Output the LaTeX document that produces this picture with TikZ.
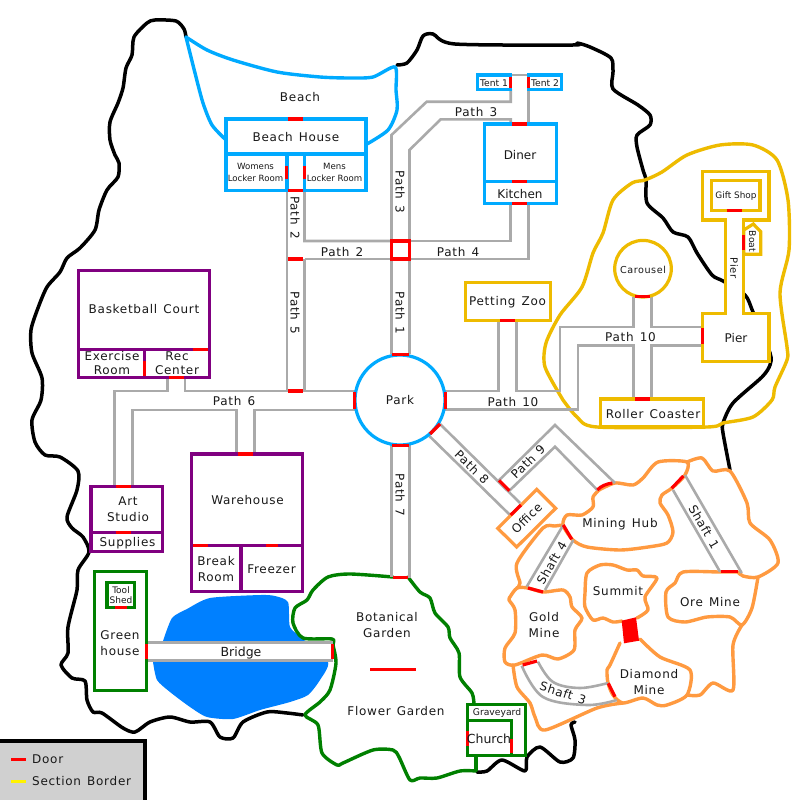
\documentclass[tikz,border=0pt]{standalone}
\usepackage{fontspec}
\setmainfont{DejaVu Sans}
\newfontfamily\spacedfont[LetterSpace=6,WordSpace=1.35]{DejaVu Sans}
\definecolor{cblue}{HTML}{00AAFF}
\definecolor{cpurple}{HTML}{800080}
\definecolor{cgreen}{HTML}{008000}
\definecolor{cyell}{HTML}{EEBB00}
\definecolor{corange}{HTML}{FF9A40}
\definecolor{cgray}{HTML}{AAAAAA}
\definecolor{clake}{HTML}{0080FF}
\definecolor{clegend}{HTML}{D0D0D0}
\tikzset{
  outline/.style={draw=black,line width=3.5pt,smooth,tension=0.45,line cap=round,line join=round},
  region/.style={line width=3.4pt,smooth,tension=0.45,line cap=round,line join=round},
  room/.style={line width=3.2pt,fill=white,line join=miter},
  divider/.style={line width=3.2pt},
  pathline/.style={draw=cgray,line width=2.6pt,line join=miter},
  door/.style={draw=red,line width=3.2pt},
  lab/.style={font=\spacedfont\fontsize{12}{16}\selectfont,align=center,inner sep=0pt,text=black!90},
  plainlab/.style={font=\fontsize{12}{16}\selectfont,align=center,inner sep=0pt,text=black!90},
  smalllab/.style={font=\fontsize{9.2}{12}\selectfont,align=center,inner sep=0pt,text=black!90},
  midlab/.style={font=\spacedfont\fontsize{10}{13}\selectfont,align=center,inner sep=0pt,text=black!90},
}
\begin{document}
\begin{tikzpicture}[x=1pt,y=-1pt]
\useasboundingbox (0,0) rectangle (800,800);
\fill[white] (0,0) rectangle (800,800);
% lake
\fill[clake] plot[smooth,tension=0.4] coordinates {(163,641)(172,618)(187,609)(210,598)(260,595)(275,596)(288,602)(290,627)(303,639)(328,662)(320,680)(308,695)(290,702)(260,710)(233,719)(207,717)(190,707)(170,692)(157,680)(153,662)} -- cycle;
% island outline
\draw[outline] plot coordinates {(186,37)(184,29)(176,21)(155,20)(147,23)(134,37)(132,55)(126,68)(123,88)(118,103)(110,122)(110,140)(115,155)(119,163)(118,177)(107,190)(99,210)(95,230)(80,248)(67,258)(60,272)(47,287)(38,308)(31,330)(32,353)(42,378)(41,400)(32,420)(35,442)(45,455)(60,457)(78,471)(77,490)(67,517)(72,528)(83,537)(89,552)(78,570)(77,590)(68,627)(68,653)(61,665)(72,678)(85,681)(87,700)(93,712)(102,713)(123,728)(135,732)(150,722)(170,717)(190,722)(210,722)(220,737)(233,738)(243,722)(267,712)(287,713)(303,715)};
\draw[outline] plot coordinates {(477,772)(487,771)(502,760)(525,771)(527,757)(540,747)(560,762)(573,758)(575,740)(571,725)(575,722)};
\draw[outline] plot coordinates {(730,470)(723,433)(723,423)(733,403)(762,377)(770,365)(770,353)(753,312)(745,295)(723,281)(712,275)(697,253)(688,237)(673,232)(663,218)(647,203)(646,180)(643,170)(637,147)(637,135)(650,125)(650,115)(638,105)(613,89)(613,72)(611,58)(590,47)(577,43)(573,45)(455,44)(433,34)(423,36)(417,50)(407,63)(397,65)};
% beach
\draw[region,draw=cblue] plot coordinates {(186,37)(207,50)(233,60)(277,72)(320,77)(350,78)(373,77)(395,67)(396,90)(397,110)(388,130)(367,144)};
\draw[region,draw=cblue] plot coordinates {(186,37)(195,73)(203,103)(212,125)(226,140)};
% amusement section
\draw[region,draw=cyell] plot coordinates {(563,400)(545,367)(546,343)(560,315)(582,287)(593,253)(603,233)(613,200)(632,183)(645,180)(662,172)(687,155)(720,145)(753,145)(777,160)(788,200)(789,250)(780,293)(787,347)(787,360)(775,387)(772,400)(753,417)(723,423)(707,427)(597,427)(577,417)(563,400)};
% garden
\draw[region,draw=cgreen] plot coordinates {(393,577)(350,574)(328,577)(313,590)(307,600)(295,608)(293,623)(303,638)(332,639)(333,645)(336,663)(330,690)(320,702)(305,715)(318,725)(322,753)(337,765)(343,763)(373,750)(393,750)(399,757)(410,780)(420,778)(437,778)(460,771)(476,771)};
\draw[region,draw=cgreen] plot coordinates {(408,577)(420,592)(430,598)(435,613)(448,627)(450,638)(459,653)(460,677)(472,693)(474,704)};
\draw[cgreen,line width=3.2pt] (476,771) -- (476,755);
% mines
\draw[region,draw=corange] plot coordinates {(599,490)(615,483)(633,485)(643,478)(658,462)(687,462)(685,475)(672,488)(662,495)(660,503)(668,515)(673,532)(667,543)(648,547)(620,550)(587,547)(573,540)(563,525)(567,515)(582,515)(593,507)(593,497)(599,490)};
\draw[region,draw=corange] plot coordinates {(687,462)(702,458)(713,471)(730,471)(747,503)(750,523)(770,540)(778,563)(758,577)(743,576)(738,572)};
\draw[region,draw=corange] plot coordinates {(738,572)(720,572)(683,572)(675,583)(666,592)(668,617)(685,622)(707,617)(730,617)(742,625)(752,608)(758,577)};
\draw[region,draw=corange] plot coordinates {(742,625)(733,645)(733,690)(713,683)(700,695)(687,695)};
\draw[region,draw=corange] plot coordinates {(640,639)(660,657)(690,670)(687,695)(667,705)(657,705)(643,698)(623,703)(613,695)(608,683)(607,670)(610,665)(620,643)};
\draw[region,draw=corange] plot coordinates {(622,621)(613,622)(603,618)(593,620)(585,607)(585,593)(587,573)(600,565)(613,565)(627,570)(637,570)(643,576)(657,578)(645,597)(648,610)(637,618)};
\draw[region,draw=corange] plot coordinates {(510,597)(517,588)(528,588)(543,592)(563,590)(570,597)(572,607)(582,618)(575,630)(574,650)(558,659)(542,655)(515,665)(505,662)(505,648)(515,633)(515,610)(509,600)(510,597)};
\draw[region,draw=corange] plot coordinates {(563,525)(555,526)(543,528)(517,563)(520,583)(517,588)};
\draw[region,draw=corange] plot coordinates {(513,665)(517,687)(530,703)(535,717)(545,730)(597,708)(623,703)};
\fill[red] (621.7,620.7) -- (636,617.3) -- (639,640.7) -- (624,643.3) -- cycle;
% paths
\draw[pathline] (287,190) -- (287,391) -- (185,391) -- (185,378);
\draw[pathline] (304.5,190) -- (304.5,241) -- (391.5,241) -- (391.5,135) -- (426.7,101.7) -- (510.7,101.7) -- (510.7,89);
\draw[pathline] (510.7,75) -- (528.3,75) -- (528.3,124);
\draw[pathline] (304.5,259) -- (391.5,259) -- (391.5,354);
\draw[pathline] (304.5,259) -- (304.5,391) -- (355,391);
\draw[pathline] (409.5,354) -- (409.5,241);
\draw[pathline] (409.5,241) -- (409.5,150) -- (440.7,119.3) -- (510.7,119.3) -- (510.7,124);
\draw[pathline] (510.7,203) -- (510.7,241) -- (409.5,241);
\draw[pathline] (528.3,203) -- (528.3,259) -- (409.5,259);
\draw[pathline] (167.5,378) -- (167.5,391) -- (114.5,391) -- (114.5,486);
\draw[pathline] (132.5,486) -- (132.5,410) -- (236.5,410) -- (236.5,454);
\draw[pathline] (254.5,454) -- (254.5,410) -- (355,410);
\draw[pathline] (391.5,445) -- (391.5,577);
\draw[pathline] (409.5,445) -- (409.5,578);
\draw[pathline] (444,391) -- (498.7,391) -- (498.7,321);
\draw[pathline] (516.7,321) -- (516.7,391) -- (560,391) -- (560,327) -- (633.7,327) -- (633.7,297);
\draw[pathline] (651.7,297) -- (651.7,327) -- (702,327);
\draw[pathline] (702,345.7) -- (651.7,345.7) -- (651.7,399);
\draw[pathline] (633.7,399) -- (633.7,345.7) -- (578,345.7) -- (578,409.3) -- (444,409.3);
\draw[pathline] (440,424) -- (520,503);
\draw[pathline] (429.3,436) -- (510,515);
\draw[pathline] (499,480.3) -- (555,425) -- (615,483);
\draw[pathline] (509.3,490.7) -- (555,446.7) -- (597.3,490);
\draw[pathline] (526.7,586.7) -- (563.3,525);
\draw[pathline] (545,590) -- (573.3,540);
\draw[pathline] (673,490) -- (720,571.7);
\draw[pathline] (685,475) -- (741.7,573);
\draw[pathline] plot[smooth,tension=0.6] coordinates {(521.7,665.7)(543,697)(587,705)(616.7,700)};
\draw[pathline] plot[smooth,tension=0.6] coordinates {(538,661.7)(553,682)(580,688)(608,683)};
% bridge
\fill[white] (147,642.7) rectangle (333,660.3);
\draw[pathline] (147,642.7) -- (333,642.7);
\draw[pathline] (147,660.3) -- (333,660.3);
% rooms: beach
\draw[room,draw=cblue] (226,119) rectangle (366,154);
\draw[room,draw=cblue] (226,154) rectangle (287,190.5);
\draw[room,draw=cblue] (304.5,154) rectangle (366,190.5);
\draw[room,draw=cblue] (400,400) circle (45);
\draw[room,draw=cblue] (477.3,75) rectangle (510.7,89.3);
\draw[room,draw=cblue] (528.3,75) rectangle (561.7,89.3);
\draw[room,draw=cblue] (484.3,124) rectangle (556.3,203.3);
\draw[divider,cblue] (484.3,181.7) -- (556.3,181.7);
% rooms: purple
\draw[room,draw=cpurple] (78.3,270.7) rectangle (209.3,377.3);
\draw[divider,cpurple] (78.3,349.3) -- (209.3,349.3) (144.3,349.3) -- (144.3,377.3);
\draw[room,draw=cpurple] (91,486.7) rectangle (162.7,551.7);
\draw[divider,cpurple] (91,532.3) -- (162.7,532.3);
\draw[room,draw=cpurple] (191.3,454) rectangle (302.7,591.7);
\draw[divider,cpurple] (191.3,545.3) -- (302.7,545.3) (241,545.3) -- (241,591.7);
% rooms: green
\draw[room,draw=cgreen] (94.7,571.3) rectangle (146.7,690.7);
\draw[room,draw=cgreen] (107,582.3) rectangle (134.7,607.7);
\draw[room,draw=cgreen] (467.3,704.7) rectangle (525.7,755.3);
\draw[divider,cgreen] (467.3,720.7) -- (511.3,720.7) -- (511.3,755.3);
% rooms: yellow
\draw[room,draw=cyell] (465.3,282.7) rectangle (550.7,320.7);
\draw[room,draw=cyell] (643,268.7) circle (28.3);
\draw[room,draw=cyell] (600.7,399) rectangle (703.3,426.7);
\draw[room,draw=cyell] (702.3,171.3) -- (769,171.3) -- (769,220) -- (743.3,220) -- (743.3,313.3) -- (769,313.3) -- (769,361.7) -- (702.3,361.7) -- (702.3,313.3) -- (725.7,313.3) -- (725.7,220) -- (702.3,220) -- cycle;
\draw[room,draw=cyell] (711.3,180.3) rectangle (760,210.7);
\draw[room,draw=cyell] (743.8,230) -- (753.3,224) -- (760.7,231.7) -- (760.7,254.3) -- (743.8,254.3) -- cycle;
% office
\draw[room,draw=corange] (536.7,489.3) -- (555.7,508.3) -- (516.7,547) -- (497.7,528.3) -- cycle;
% doors
\draw[door] (288,119) -- (303,119);
\draw[door] (286.7,166) -- (286.7,179);
\draw[door] (304.7,166) -- (304.7,179);
\draw[door] (288,190.5) -- (303,190.5);
\draw[door] (288,259) -- (303,259);
\draw[door] (288,391) -- (303,391);
\draw[door] (391.5,241) rectangle (409.5,259);
\draw[door] (392,354.5) -- (409,354.5);
\draw[door] (392,445.5) -- (409,445.5);
\draw[door] (354.5,392) -- (354.5,409);
\draw[door] (445.5,392) -- (445.5,409);
\draw[door] (430,434) -- (440,424);
\draw[door] (193,349.3) -- (208,349.3);
\draw[door] (144.3,361) -- (144.3,376);
\draw[door] (169,377.3) -- (184,377.3);
\draw[door] (115.7,486.7) -- (131,486.7);
\draw[door] (115.7,532.3) -- (131,532.3);
\draw[door] (237.7,454) -- (252.7,454);
\draw[door] (193.3,545.3) -- (207.7,545.3);
\draw[door] (266,545.3) -- (277.7,545.3);
\draw[door] (115.3,607.3) -- (127,607.3);
\draw[door] (146.7,644) -- (146.7,658.7);
\draw[door] (332.3,644) -- (332.3,658.7);
\draw[door] (393,577.5) -- (408,577.5);
\draw[door] (370,669.3) -- (416,669.3);
\draw[door] (467.3,731) -- (467.3,745.7);
\draw[door] (511.3,739) -- (511.3,753.3);
\draw[door] (510.7,77) -- (510.7,88);
\draw[door] (528.3,77) -- (528.3,88);
\draw[door] (512,124) -- (527,124);
\draw[door] (512,181.7) -- (527,181.7);
\draw[door] (512,203.3) -- (527,203.3);
\draw[door] (500,320.7) -- (515,320.7);
\draw[door] (635,296.7) -- (650,296.7);
\draw[door] (635,399) -- (650,399);
\draw[door] (702.3,328.3) -- (702.3,344);
\draw[door] (726.7,210.7) -- (741.7,210.7);
\draw[door] (743.3,235) -- (743.3,250);
\draw[door] (510.7,515) -- (521,505);
\draw[door] (499,480.3) -- (509.3,490.7);
\draw[door] (597.3,490) .. controls (601,486) and (606,484) .. (612.3,483);
\draw[door] (671.7,488.3) -- (683.3,476);
\draw[door] (720.7,571.7) -- (738.3,571.7);
\draw[door] (563.3,525) -- (571.7,539.3);
\draw[door] (528,588) -- (543,592);
\draw[door] (522.7,665) -- (537,661);
\draw[door] (608.3,683.3) -- (615,696.7);
% labels
\node[lab] (beach) at (300,97) {Beach};
\node[lab] (beachhouse) at (296,137) {Beach House};
\node[smalllab,font=\fontsize{8.6}{12}\selectfont] (womens) at (255.5,172.5) {Womens\\Locker Room};
\node[smalllab,font=\fontsize{8.6}{12}\selectfont] (mens) at (334.5,172.5) {Mens\\Locker Room};
\node[lab] (basket) at (144,309.5) {Basketball Court};
\node[lab,font=\spacedfont\fontsize{12}{14}\selectfont] (exercise) at (112,363.5) {Exercise\\Room};
\node[lab,font=\spacedfont\fontsize{12}{14}\selectfont] (rec) at (177,363.5) {Rec\\Center};
\node[lab] (art) at (128,509) {Art\\Studio};
\node[lab] (supplies) at (127.5,543) {Supplies};
\node[lab] (ware) at (247.5,500) {Warehouse};
\node[lab] (break) at (216,569) {Break\\Room};
\node[lab] (freezer) at (271.5,569) {Freezer};
\node[smalllab,font=\fontsize{9}{10}\selectfont] (tool) at (121,595.5) {Tool\\Shed};
\node[lab] (greenh) at (120,643.5) {Green\\house};
\node[plainlab,font=\fontsize{12.5}{16}\selectfont] (bridge) at (241,653) {Bridge};
\node[lab] (botanical) at (387,625.5) {Botanical\\Garden};
\node[lab] (flower) at (396,711) {Flower Garden};
\node[smalllab] (grave) at (497,713) {Graveyard};
\node[plainlab,font=\fontsize{12.5}{16}\selectfont] (church) at (489,739) {Church};
\node[lab] (park) at (400,400) {Park};
\node[plainlab] (diner) at (520,155) {Diner};
\node[plainlab] (kitchen) at (520,194) {Kitchen};
\node[smalllab] (t1) at (494,83) {Tent 1};
\node[smalllab] (t2) at (545,83) {Tent 2};
\node[lab] (zoo) at (507.5,302) {Petting Zoo};
\node[smalllab,font=\spacedfont\fontsize{9.6}{12}\selectfont] (carousel) at (643,269.5) {Carousel};
\node[smalllab,font=\fontsize{8.9}{12}\selectfont] (gift) at (736,196) {Gift Shop};
\node[plainlab] (pier) at (736,338) {Pier};
\node[midlab,rotate=-90] (pier2) at (734,268) {Pier};
\node[smalllab,rotate=-90] (boat) at (752.5,241.5) {Boat};
\node[lab] (roller) at (653,414) {Roller Coaster};
\node[lab] (hub) at (620,524) {Mining Hub};
\node[lab] (summit) at (618,591) {Summit};
\node[lab] (ore) at (710,602) {Ore Mine};
\node[lab] (gold) at (544,625) {Gold\\Mine};
\node[lab] (diamond) at (649,682) {Diamond\\Mine};
\node[lab,rotate=45] (office) at (526.7,518) {Office};
\node[lab,rotate=-90] (p2v) at (295,217.5) {Path 2};
\node[lab,rotate=-90] (p5) at (295,313) {Path 5};
\node[lab,rotate=-90] (p3v) at (400,192) {Path 3};
\node[lab,rotate=-90] (p1) at (400,313) {Path 1};
\node[lab,rotate=-90] (p7) at (400,495) {Path 7};
\node[lab] (p2h) at (342,252) {Path 2};
\node[lab] (p4) at (458,252) {Path 4};
\node[lab] (p3h) at (476,112) {Path 3};
\node[lab] (p6) at (234,401) {Path 6};
\node[lab] (p10a) at (630.5,337) {Path 10};
\node[lab] (p10b) at (513,402) {Path 10};
\node[lab,rotate=-45] (p8) at (472,467) {Path 8};
\node[lab,rotate=45] (p9) at (528,461.7) {Path 9};
\node[lab,rotate=60] (s4) at (551.7,563) {Shaft 4};
\node[lab,rotate=-60] (s1) at (704,526.7) {Shaft 1};
\node[lab,rotate=-18] (s3) at (563,693) {Shaft 3};
% legend
\draw[draw=black,fill=clegend,line width=3.5pt] (-3,741) rectangle (145,803);
\draw[door] (11,759.3) -- (25.7,759.3);
\draw[draw=yellow,line width=3.2pt] (11,781.3) -- (25.7,781.3);
\node[lab,anchor=west] (ldoor) at (32,759.5) {Door};
\node[lab,anchor=west] (lsect) at (32,781.5) {Section Border};
\end{tikzpicture}
\end{document}
